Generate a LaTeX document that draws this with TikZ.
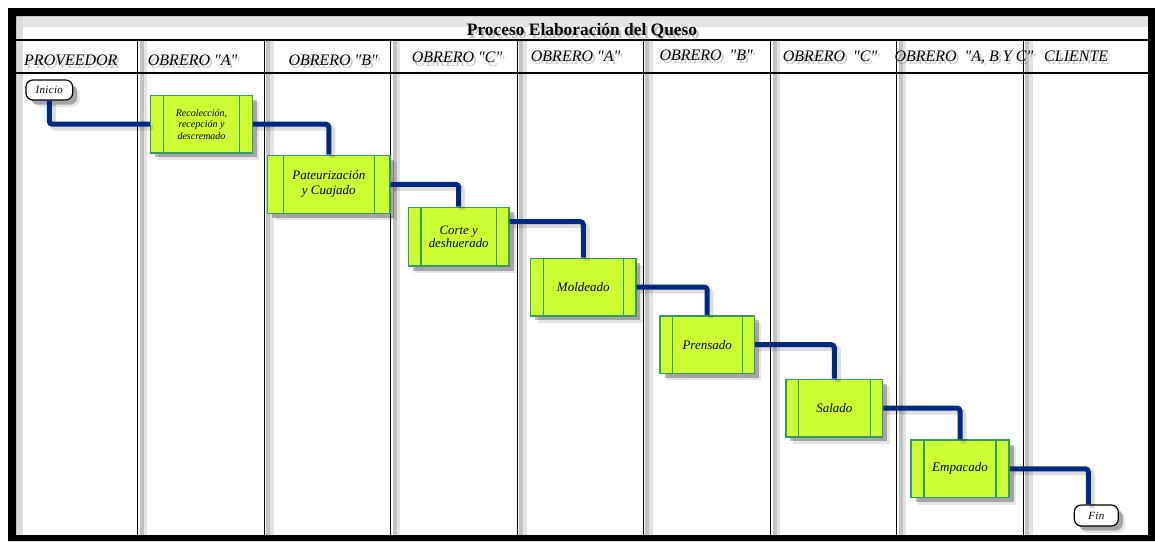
\documentclass[tikz,border=0pt]{standalone}
\usepackage{fontspec}
\setmainfont{Liberation Serif}[Ligatures=TeXOff]
\usetikzlibrary{calc,shadows}

\definecolor{procfill}{RGB}{204,255,51}
\definecolor{procline}{RGB}{51,153,102}
\definecolor{flow}{RGB}{0,42,130}

\tikzset{
  gridline/.style={line width=1.4pt, black},
  hdr/.style={anchor=base west, inner sep=0pt, font=\fontsize{16}{19}\selectfont\itshape},
  hdrshadow/.style={hdr, text=black, opacity=0.22},
  softshadow/.style={
    general shadow={fill=black, opacity=0.10, shadow xshift=7pt, shadow yshift=-7pt},
    general shadow={fill=black, opacity=0.28, shadow xshift=4.5pt, shadow yshift=-4.5pt}},
  procbox/.style={draw=procline, fill=procfill, line width=1.5pt, inner sep=0pt,
    minimum height=57.5pt, align=center, softshadow,
    font=\fontsize{13}{15}\selectfont\itshape,
    path picture={\draw[procline, line width=1.3pt]
      ([xshift=#1pt]path picture bounding box.north west) -- ([xshift=#1pt]path picture bounding box.south west)
      ([xshift=-#1pt]path picture bounding box.north east) -- ([xshift=-#1pt]path picture bounding box.south east);}},
  terminal/.style={draw=black, fill=white, line width=1.2pt, rounded corners=7pt, inner sep=0pt,
    softshadow, font=\fontsize{11}{13}\selectfont\itshape\addfontfeatures{LetterSpace=3}},
  flowline/.style={draw=flow, line width=5pt, rounded corners=3pt,
    preaction={draw=black, opacity=0.13, line width=6pt, transform canvas={shift={(3.5pt,-3.5pt)}}}}
}

\begin{document}
\begin{tikzpicture}[x=1pt, y=-1pt]
\useasboundingbox (0,0) rectangle (1155,541);

% soft shading inside the frame and beside the lane dividers
\fill[black!10] (16,16) rectangle (1148,27);
\fill[black!14] (16,16) rectangle (23,535);
\foreach \x in {137.7,264.3,390.7,517.3,643.3,770.7,896.7,1023.3} {
  \fill[black!24] (\x+2,41) rectangle (\x+6,535);
  \fill[black!11] (\x+6,41) rectangle (\x+9.5,535);
}

% header rows and lane dividers
\draw[gridline] (16,40) -- (1148,40);
\draw[gridline] (16,73) -- (1148,73);
\foreach \x in {137.7,264.3,390.7,517.3,643.3,770.7,896.7,1023.3}
  \draw[gridline] (\x,40) -- (\x,535);

% outer frame
\fill[black, even odd rule] (8,8) rectangle (1155,541) (16,16) rectangle (1148,535);

% title
\node[anchor=base, inner sep=0pt, text=black, opacity=0.25, font=\fontsize{17.4}{20}\selectfont\bfseries]
  (titleshadow) at (584.5,38) {Proceso Elaboración del Queso};
\node[anchor=base, inner sep=0pt, font=\fontsize{17.4}{20}\selectfont\bfseries]
  (title) at (582,35) {Proceso Elaboración del Queso};

% lane headers
\foreach \n/\x/\y/\t in {
    h1/24/65/{PROVEEDOR},
    h2/147.7/65/{OBRERO "A"},
    h3/288.3/65/{OBRERO "B"},
    h4/411.7/62.5/{OBRERO "C"},
    h5/530.7/61/{OBRERO "A"},
    h6/659.3/60/{OBRERO\ \ "B"},
    h7/782.7/61/{OBRERO\ \ "C"},
    h8/894.3/61/{OBRERO\ \ "A, B Y C"},
    h9/1044/61/{CLIENTE}} {
  \node[hdrshadow] (\n s) at (\x+2.5,\y+3.5) {\t};
  \node[hdr] (\n) at (\x,\y) {\t};
}

% process steps
\node[terminal, minimum width=46.7pt, minimum height=20pt] (inicio) at (49.3,90) {Inicio};
\node[procbox=12.7, minimum width=101.6pt, font=\fontsize{10}{11.6}\selectfont\itshape]
  (p1) at (201.5,124.2) {Recolección,\\recepción y\\descremado};
\node[procbox=15.6, minimum width=122.3pt, minimum height=58pt] (p2) at (328.8,184.3) {Pateurización\\y Cuajado};
\node[procbox=12.7, minimum width=100.7pt, minimum height=58.7pt,
  font=\fontsize{12.8}{13.6}\selectfont\itshape] (p3) at (458.7,236.7) {Corte y\\deshuerado};
\node[procbox=12.6, minimum width=105.3pt] (p4) at (583.3,287) {Moldeado};
\node[procbox=12.2, minimum width=94.3pt] (p5) at (707.2,344.7) {Prensado};
\node[procbox=12.3, minimum width=96.7pt] (p6) at (834.3,408) {Salado};
\node[procbox=13, minimum width=98pt] (p7) at (960,468.8) {Empacado};
\node[terminal, minimum width=44pt, minimum height=21pt] (fin) at (1096.3,515.5) {Fin};

% flow connectors
\draw[flowline] (inicio.south) |- (p1.west);
\draw[flowline] (p1.east) -| (p2.north);
\draw[flowline] (p2.east) -| (p3.north);
\draw[flowline] ($(p3.east)+(0,-15)$) -| (p4.north);
\draw[flowline] (p4.east) -| (p5.north);
\draw[flowline] (p5.east) -| (p6.north);
\draw[flowline] (p6.east) -| (p7.north);
\coordinate (finin) at ($(fin.north)+(-8,0)$);
\draw[flowline] (p7.east) -| (finin);
\end{tikzpicture}
\end{document}
